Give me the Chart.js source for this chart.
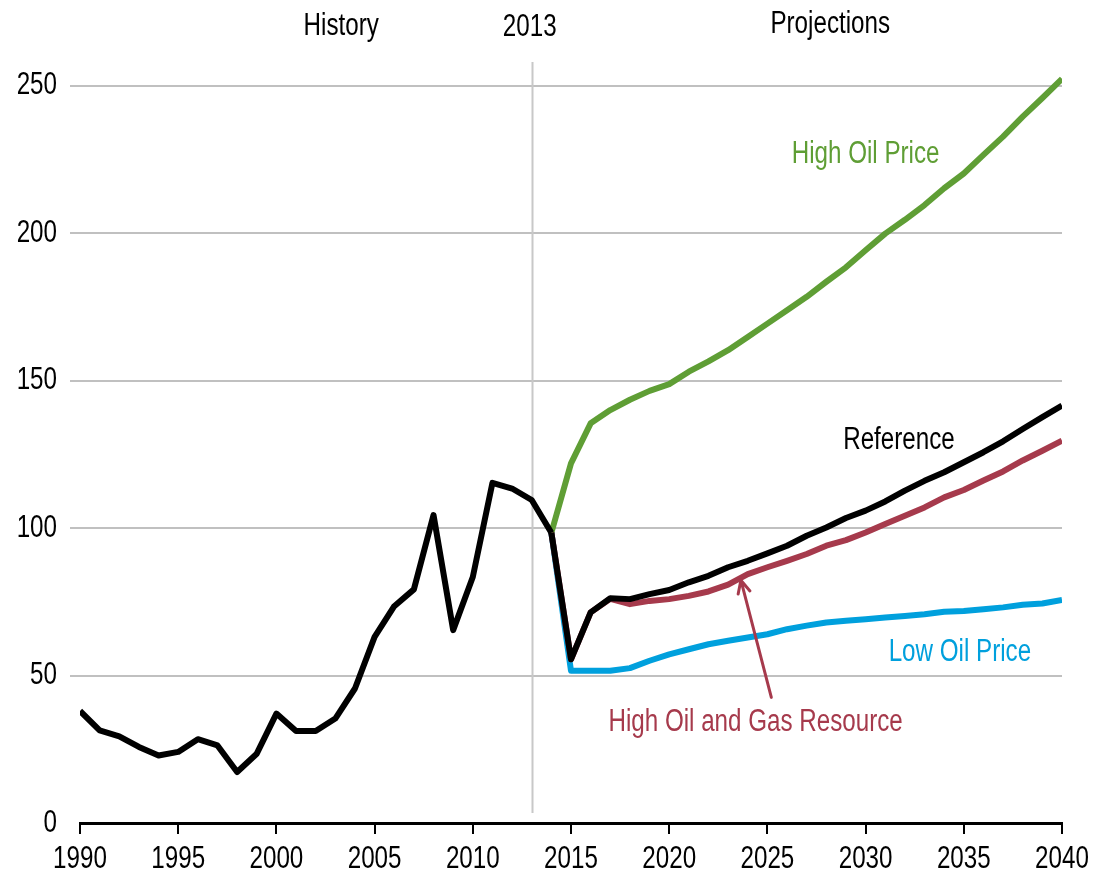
<!DOCTYPE html>
<html lang="en">

<head>
  <meta charset="UTF-8">
  <title>Oil Price Projections</title>
  <style>
    body {
      margin: 0;
      background: #fff;
    }

    #chart-container {
      width: 1094px;
      height: 885px;
    }
  </style>
</head>

<body>
  <div id="chart-container">
    <canvas id="priceChart"></canvas>
  </div>

  <script src="https://cdn.jsdelivr.net/npm/chart.js@4.4.1/dist/chart.umd.min.js"></script>
  <script>
    const FONT = "'Liberation Sans', Arial, sans-serif";
    const NARROW = 0.78; // squeeze text horizontally, like Arial Narrow

    const historyYears = [1990, 1991, 1992, 1993, 1994, 1995, 1996, 1997, 1998, 1999,
      2000, 2001, 2002, 2003, 2004, 2005, 2006, 2007, 2008, 2009,
      2010, 2011, 2012, 2013, 2014];
    const history = [38.0, 31.4, 29.4, 25.8, 22.9, 24.1, 28.4, 26.3, 17.3, 23.5,
      37.1, 31.2, 31.2, 35.4, 45.6, 63.1, 73.5, 79.2, 104.4, 65.4,
      83.4, 115.3, 113.4, 109.5, 98.4];

    const projYears = [2014, 2015, 2016, 2017, 2018, 2019, 2020, 2021, 2022, 2023,
      2024, 2025, 2026, 2027, 2028, 2029, 2030, 2031, 2032, 2033,
      2034, 2035, 2036, 2037, 2038, 2039, 2040];
    const reference = [98.4, 55.5, 71.4, 76.2, 75.9, 77.6, 79.0, 81.6, 83.8, 86.7,
      88.9, 91.4, 94.0, 97.4, 100.2, 103.4, 105.9, 109.0, 112.7, 116.0,
      118.9, 122.3, 125.7, 129.4, 133.6, 137.6, 141.5];
    const highResource = [98.4, 55.5, 71.4, 76.0, 74.2, 75.3, 75.9, 77.0, 78.5, 80.8,
      84.4, 86.7, 88.9, 91.2, 94.0, 95.9, 98.5, 101.4, 104.2, 107.0,
      110.4, 112.9, 116.1, 119.2, 122.9, 126.2, 129.6];
    const lowPrice = [98.4, 51.6, 51.6, 51.6, 52.5, 55.0, 57.2, 58.9, 60.6, 61.8,
      62.9, 64.0, 65.7, 66.9, 68.0, 68.6, 69.1, 69.7, 70.2, 70.8,
      71.6, 71.9, 72.5, 73.1, 74.0, 74.4, 75.6];
    const highPrice = [98.4, 121.9, 135.5, 140.0, 143.5, 146.5, 148.8, 153.0, 156.5, 160.3,
      164.8, 169.3, 173.8, 178.4, 183.5, 188.4, 194.2, 199.8, 204.5, 209.5,
      215.2, 220.2, 226.5, 232.7, 239.5, 245.8, 252.3];

    const yTicks = [0, 50, 100, 150, 200, 250];
    const xTicks = [1990, 1995, 2000, 2005, 2010, 2015, 2020, 2025, 2030, 2035, 2040];

    const GREEN = '#5f9e35';
    const BLUE = '#00a0dd';
    const RED = '#a63a4c';

    function toPoints(xs, ys) {
      return xs.map((x, i) => ({ x: x, y: ys[i] }));
    }

    function line(label, xs, ys, color, order) {
      return {
        label: label,
        data: toPoints(xs, ys),
        borderColor: color,
        borderWidth: 6,
        pointRadius: 0,
        fill: false,
        tension: 0,
        borderJoinStyle: 'round',
        order: order
      };
    }

    function narrowText(ctx, text, x, y, align, color) {
      ctx.save();
      ctx.translate(x, y);
      ctx.scale(NARROW, 1);
      ctx.font = '31px ' + FONT;
      ctx.textAlign = align;
      ctx.textBaseline = 'middle';
      ctx.fillStyle = color;
      ctx.fillText(text, 0, 0);
      ctx.restore();
    }

    // tick labels, texts, divider line and arrow
    const annotations = {
      id: 'annotations',
      beforeDatasetsDraw(chart) {
        const ctx = chart.ctx;
        const x = chart.scales.x;
        const area = chart.chartArea;
        const px = Math.round(x.getPixelForValue(2013)) + 0.5;
        ctx.save();
        ctx.strokeStyle = '#c8c8c8';
        ctx.lineWidth = 2;
        ctx.beginPath();
        ctx.moveTo(px, area.top);
        ctx.lineTo(px, area.bottom - 10);
        ctx.stroke();
        ctx.restore();
      },
      afterDatasetsDraw(chart) {
        const ctx = chart.ctx;
        const x = chart.scales.x;
        const y = chart.scales.y;

        x.ticks.forEach(t => narrowText(ctx, String(t.value), x.getPixelForValue(t.value), 859, 'center', '#000'));
        y.ticks.forEach(t => narrowText(ctx, String(t.value), 57, y.getPixelForValue(t.value), 'right', '#000'));

        narrowText(ctx, 'History', x.getPixelForValue(2003.3), 26, 'center', '#000');
        narrowText(ctx, '2013', x.getPixelForValue(2012.9), 27, 'center', '#000');
        narrowText(ctx, 'Projections', x.getPixelForValue(2028.2), 24, 'center', '#000');

        const labels = [
          ['High Oil Price', 2030.0, 226.5, GREEN],
          ['Reference', 2031.7, 129.8, '#000'],
          ['Low Oil Price', 2034.8, 57.9, BLUE],
          ['High Oil and Gas Resource', 2024.4, 34.1, RED]
        ];
        labels.forEach(l => narrowText(ctx, l[0], x.getPixelForValue(l[1]), y.getPixelForValue(l[2]), 'center', l[3]));

        // arrow to the resource line
        const x0 = x.getPixelForValue(2025.2), y0 = y.getPixelForValue(42.6);
        const x1 = x.getPixelForValue(2023.65), y1 = y.getPixelForValue(82.3);
        const ang = Math.atan2(y1 - y0, x1 - x0);
        ctx.save();
        ctx.strokeStyle = RED;
        ctx.lineWidth = 3;
        ctx.lineCap = 'round';
        ctx.beginPath();
        ctx.moveTo(x0, y0);
        ctx.lineTo(x1, y1);
        ctx.moveTo(x1, y1);
        ctx.lineTo(x1 - 14 * Math.cos(ang - 0.45), y1 - 14 * Math.sin(ang - 0.45));
        ctx.moveTo(x1, y1);
        ctx.lineTo(x1 - 14 * Math.cos(ang + 0.45), y1 - 14 * Math.sin(ang + 0.45));
        ctx.stroke();
        ctx.restore();
      }
    };

    const ctx = document.getElementById('priceChart').getContext('2d');
    const priceChart = new Chart(ctx, {
      type: 'line',
      data: {
        datasets: [
          line('History', historyYears, history, '#000', 0),
          line('Reference', projYears, reference, '#000', 1),
          line('High Oil and Gas Resource', projYears, highResource, RED, 2),
          line('High Oil Price', projYears, highPrice, GREEN, 3),
          line('Low Oil Price', projYears, lowPrice, BLUE, 4)
        ]
      },
      options: {
        responsive: true,
        maintainAspectRatio: false,
        animation: false,
        layout: {
          padding: { top: 62, right: 32, left: 0, bottom: 0 }
        },
        plugins: {
          legend: { display: false },
          tooltip: { enabled: false }
        },
        scales: {
          x: {
            type: 'linear',
            min: 1990,
            max: 2040,
            afterBuildTicks: s => { s.ticks = xTicks.map(v => ({ value: v })); },
            afterFit: s => { s.height = 62; },
            border: { color: '#000', width: 3 },
            grid: {
              drawOnChartArea: false,
              drawTicks: true,
              tickLength: 11,
              color: '#000',
              lineWidth: 2
            },
            ticks: { display: false }
          },
          y: {
            min: 0,
            max: 258,
            afterBuildTicks: s => { s.ticks = yTicks.map(v => ({ value: v })); },
            afterFit: s => { s.width = 80; },
            border: { display: false },
            grid: {
              color: c => (c.tick && c.tick.value === 0) ? 'rgba(0,0,0,0)' : '#c0c0c0',
              lineWidth: 2,
              tickLength: 10
            },
            ticks: { display: false }
          }
        }
      },
      plugins: [annotations]
    });
  </script>
</body>

</html>
